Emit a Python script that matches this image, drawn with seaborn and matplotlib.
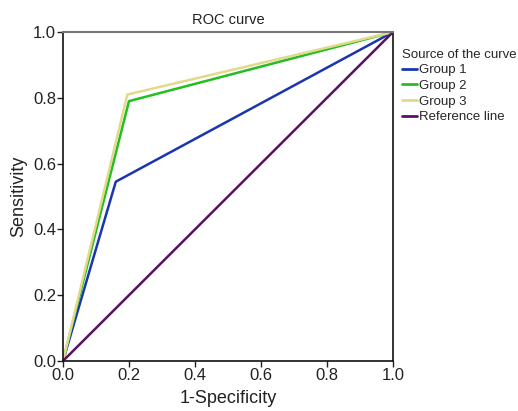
import pandas as pd
import numpy as np
import matplotlib
matplotlib.use("Agg")
import matplotlib.pyplot as plt
import seaborn as sns

sns.set_style("white")
plt.rcParams['font.family'] = ['Liberation Sans', 'DejaVu Sans']

# ROC points
groups = ["Group 1", "Group 2", "Group 3", "Reference line"]
fpr_g1 = [0.0, 0.16, 1.0]
tpr_g1 = [0.0, 0.545, 1.0]
fpr_g2 = [0.0, 0.20, 1.0]
tpr_g2 = [0.0, 0.79, 1.0]
fpr_g3 = [0.0, 0.195, 1.0]
tpr_g3 = [0.0, 0.81, 1.0]
fpr_ref = [0.0, 1.0]
tpr_ref = [0.0, 1.0]
colors = ["#1a35b0", "#22bf22", "#e3d98c", "#5c0f62"]
ticks = [0.0, 0.2, 0.4, 0.6, 0.8, 1.0]

rows = []
for name, xs, ys in zip(groups, [fpr_g1, fpr_g2, fpr_g3, fpr_ref], [tpr_g1, tpr_g2, tpr_g3, tpr_ref]):
    for x, y in zip(xs, ys):
        rows.append({"fpr": x, "tpr": y, "curve": name})
df = pd.DataFrame(rows)

fig = plt.figure(figsize=(5.18, 4.11), dpi=100)
ax = fig.add_axes([0.1216, 0.1217, 0.637, 0.8003])
sns.lineplot(data=df, x="fpr", y="tpr", hue="curve", hue_order=groups,
             palette=colors, sort=False, estimator=None, linewidth=1.8, ax=ax)

ax.set_xlim(0, 1)
ax.set_ylim(0, 1)
ax.set_xticks(ticks)
ax.set_yticks(ticks)
ax.set_xticklabels([f"{t:.1f}" for t in ticks], fontsize=12)
ax.set_yticklabels([f"{t:.1f}" for t in ticks], fontsize=12)
ax.tick_params(axis="both", direction="out", length=4, width=1, color="#222222",
               pad=1, left=True, bottom=True, colors="#222222")
for side in ["left", "bottom", "right"]:
    ax.spines[side].set_color("#111111")
    ax.spines[side].set_linewidth(1.2)
ax.spines["top"].set_color("#777777")
ax.spines["top"].set_linewidth(1.5)

ax.set_xlabel("1-Specificity", fontsize=13, color="#222222", labelpad=5)
ax.set_ylabel("Sensitivity", fontsize=13, color="#222222", labelpad=4)
ax.set_title("ROC curve", fontsize=10.5, color="#222222", pad=6)

leg = ax.legend(title="Source of the curve", loc="upper left", bbox_to_anchor=(1.01, 0.966),
                frameon=False, fontsize=9.5, title_fontsize=9.5, handlelength=1.2,
                handletextpad=0.15, labelspacing=0.26, borderaxespad=0)
leg._legend_box.align = "left"
for line in leg.get_lines():
    line.set_linewidth(2)

fig.savefig("out.png", dpi=100)
